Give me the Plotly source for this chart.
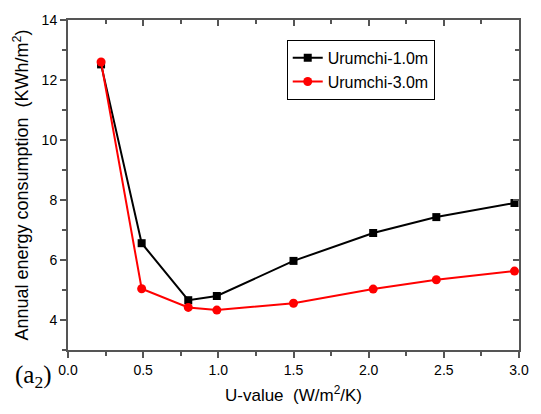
import plotly.graph_objects as go

u_values = [0.22, 0.49, 0.80, 0.99, 1.50, 2.03, 2.45, 2.97]
urumchi_1m = [12.52, 6.56, 4.66, 4.80, 5.97, 6.90, 7.43, 7.90]
urumchi_3m = [12.60, 5.04, 4.42, 4.33, 4.56, 5.03, 5.34, 5.63]

fig = go.Figure()
fig.add_trace(go.Scatter(x=u_values, y=urumchi_1m, mode="lines+markers", name="Urumchi-1.0m",
                         line=dict(color="black", width=2),
                         marker=dict(symbol="square", size=8, color="black")))
fig.add_trace(go.Scatter(x=u_values, y=urumchi_3m, mode="lines+markers", name="Urumchi-3.0m",
                         line=dict(color="#ff0000", width=2),
                         marker=dict(symbol="circle", size=9, color="#ff0000")))

axis_color = "#555555"
font_family = "Arial"

fig.update_layout(
    width=541, height=414,
    margin=dict(l=68, r=16, t=15, b=59),
    paper_bgcolor="white", plot_bgcolor="white",
    font=dict(family=font_family, size=14, color="black"),
    showlegend=True,
    legend=dict(x=0.485, y=0.94, xanchor="left", yanchor="top",
                bordercolor="black", borderwidth=1, bgcolor="white",
                font=dict(size=16, family=font_family),
                tracegroupgap=0),
    xaxis=dict(range=[0, 3.0], dtick=0.5, tickformat=".1f",
               showline=True, linecolor=axis_color, linewidth=2,
               ticks="outside", ticklen=6, tickwidth=1.5, tickcolor=axis_color,
               minor=dict(dtick=0.25, ticks="outside", ticklen=4, tickcolor=axis_color, tickwidth=1.5),
               showgrid=False, zeroline=False,
               title=dict(text="U-value  (W/m<sup>2</sup>/K)", font=dict(size=17), standoff=12),
               tickfont=dict(size=14)),
    yaxis=dict(range=[3, 14], dtick=2, tick0=0,
               showline=True, linecolor=axis_color, linewidth=2,
               ticks="outside", ticklen=6, tickwidth=1.5, tickcolor=axis_color,
               minor=dict(dtick=1, ticks="outside", ticklen=4, tickcolor=axis_color, tickwidth=1.5),
               showgrid=False, zeroline=False,
               title=dict(text="Annual energy consumption  (KWh/m<sup>2</sup>)", font=dict(size=18), standoff=8),
               tickfont=dict(size=14)),
    xaxis2=dict(range=[0, 3.0], dtick=0.5, overlaying="x", side="top",
                showline=True, linecolor=axis_color, linewidth=2,
                ticks="inside", ticklen=6, tickwidth=1.5, tickcolor=axis_color,
                minor=dict(dtick=0.25, ticks="inside", ticklen=4, tickcolor=axis_color, tickwidth=1.5),
                showticklabels=False, showgrid=False, zeroline=False),
    yaxis2=dict(range=[3, 14], dtick=2, tick0=0, overlaying="y", side="right",
                showline=True, linecolor=axis_color, linewidth=2,
                ticks="inside", ticklen=6, tickwidth=1.5, tickcolor=axis_color,
                minor=dict(dtick=1, ticks="inside", ticklen=4, tickcolor=axis_color, tickwidth=1.5),
                showticklabels=False, showgrid=False, zeroline=False),
)

# invisible trace to activate the mirrored axes
fig.add_trace(go.Scatter(x=[None], y=[None], xaxis="x2", yaxis="y2", showlegend=False, hoverinfo="skip"))

fig.add_annotation(text="(a<sub>2</sub>)", xref="paper", yref="paper", x=-0.1225, y=-0.026,
                   xanchor="left", yanchor="top", showarrow=False,
                   font=dict(family="Liberation Serif, Times New Roman, serif", size=25, color="black"))

fig.write_html("out.html")
